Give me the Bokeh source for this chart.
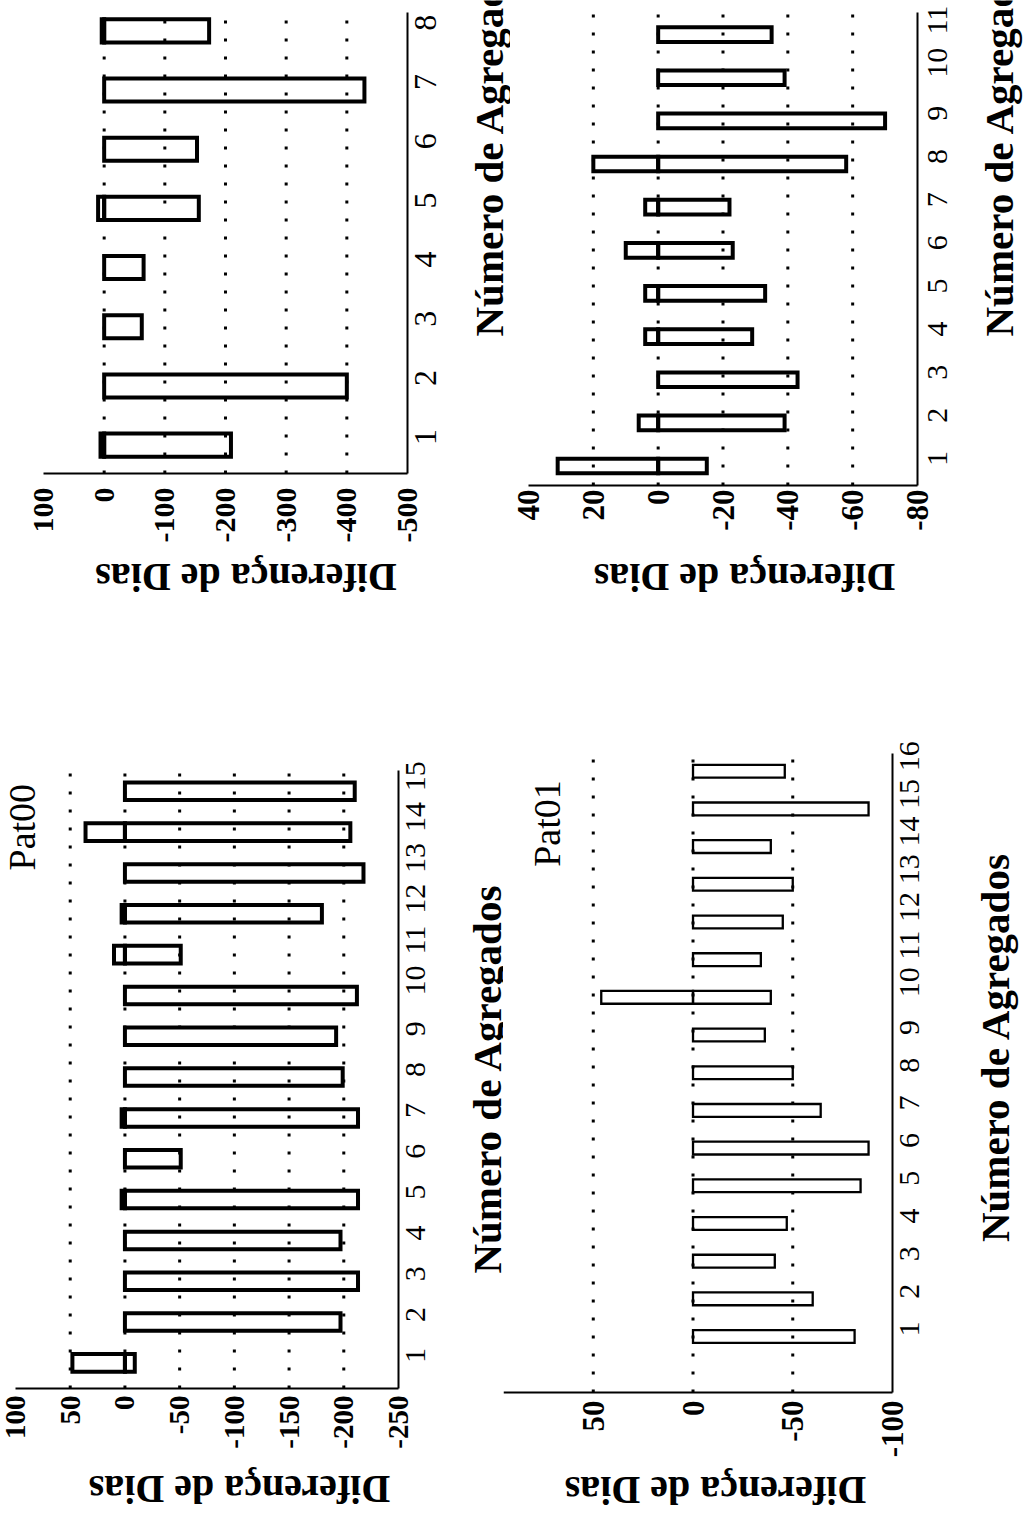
import math
from bokeh.plotting import figure
from bokeh.models import Range1d, FixedTicker, Label
from bokeh.layouts import column, row
from bokeh.embed import file_html
from bokeh.resources import INLINE

# ---------------- data ----------------
# upper-left panel
agg_a = [1, 2, 3, 4, 5, 6, 7, 8]
pos_a = [6, 0, 0, 0, 10, 0, 0, 4]
neg_a = [-209, -400, -62, -65, -156, -153, -429, -173]
vticks_a = [100, 0, -100, -200, -300, -400, -500]
grid_a = [0, -100, -200, -300, -400]

# upper-right panel
agg_b = [1, 2, 3, 4, 5, 6, 7, 8, 9, 10, 11]
pos_b = [31, 6, 0, 4, 4, 10, 4, 20, 0, 0, 0]
neg_b = [-15, -39, -43, -29, -33, -23, -22, -58, -70, -39, -35]
vticks_b = [40, 20, 0, -20, -40, -60, -80]
grid_b = [20, 0, -20, -40, -60]

# Pat00
agg_c = list(range(1, 16))
pos_c = [48, 0, 0, 0, 3, 0, 3, 0, 0, 0, 10, 3, 0, 36, 0]
neg_c = [-9, -197, -213, -197, -213, -51, -213, -199, -193, -212, -51, -180, -218, -206, -210]
vticks_c = [100, 50, 0, -50, -100, -150, -200, -250]
grid_c = [50, 0, -50, -100, -150, -200]

# Pat01
agg_d = list(range(1, 17))
pos_d = [0, 0, 0, 0, 0, 0, 0, 0, 0, 46, 0, 0, 0, 0, 0, 0]
neg_d = [-81, -60, -41, -47, -84, -88, -64, -50, -36, -39, -34, -45, -50, -39, -88, -46]
vticks_d = [50, 0, -50, -100]
grid_d = [50, 0, -50]

y_title = "Diferença de Dias"
x_title = "Número de Agregados"

SERIF = "Liberation Serif"


def make_panel(origin, size, frame, xr, yr, cats, pos, neg, vticks, gticks,
               bar_h, lw, vfont, cfont, vstand, cstand):
    ox, oy = origin
    w, h = size
    fx0, fx1, fy0, fy1 = frame

    def to_data(px, py):
        dx = xr[0] + (px - fx0) / (fx1 - fx0) * (xr[1] - xr[0])
        dy = yr[0] + (fy1 - py) / (fy1 - fy0) * (yr[1] - yr[0])
        return dx, dy

    x_left, y_top = to_data(ox, oy)
    x_right, y_bot = to_data(ox + w, oy + h)

    p = figure(width=w, height=h, x_range=Range1d(x_left, x_right),
               y_range=Range1d(y_bot, y_top), min_border=0,
               y_axis_location="right", output_backend="svg", toolbar_location=None)
    p.outline_line_color = None
    p.background_fill_color = "white"
    p.border_fill_color = "white"
    p.xgrid.visible = False
    p.ygrid.visible = False

    xa = p.xaxis[0]
    xa.fixed_location = yr[0]
    xa.bounds = (min(xr), max(xr))
    xa.ticker = FixedTicker(ticks=vticks)
    xa.major_label_overrides = {v: str(v) for v in vticks}
    xa.major_label_orientation = math.pi / 2
    xa.major_label_text_font = SERIF
    xa.major_label_text_font_style = "bold"
    xa.major_label_text_font_size = f"{vfont}px"
    xa.major_label_text_color = "black"
    xa.major_tick_line_color = None
    xa.minor_tick_line_color = None
    xa.major_tick_out = 0
    xa.major_tick_in = 0
    xa.major_label_standoff = vstand
    xa.axis_line_width = 2
    xa.axis_line_color = "black"

    ya = p.yaxis[0]
    ya.fixed_location = xr[1]
    ya.bounds = (min(yr), max(yr))
    ya.ticker = FixedTicker(ticks=cats)
    ya.major_label_overrides = {c: str(c) for c in cats}
    ya.major_label_orientation = math.pi / 2
    ya.major_label_text_font = SERIF
    ya.major_label_text_font_size = f"{cfont}px"
    ya.major_label_text_color = "black"
    ya.major_tick_line_color = None
    ya.minor_tick_line_color = None
    ya.major_tick_out = 0
    ya.major_tick_in = 0
    ya.major_label_standoff = cstand
    ya.axis_line_width = 2
    ya.axis_line_color = "black"

    # dotted value grid lines, limited to the plotting region
    n = len(gticks)
    p.segment(x0=gticks, x1=gticks, y0=[yr[0]] * n, y1=[yr[1]] * n,
              line_color="black", line_width=3, line_dash="3 15")

    p.hbar(y=cats, left=0, right=neg, height=bar_h, fill_color=None,
           line_color="black", line_width=lw, line_join="miter")
    pc = [c for c, v in zip(cats, pos) if v > 0]
    pv = [v for v in pos if v > 0]
    if pc:
        p.hbar(y=pc, left=0, right=pv, height=bar_h, fill_color=None,
               line_color="black", line_width=lw, line_join="miter")

    def label(text, px, py, angle, fsize, style, align, baseline="middle"):
        dx, dy = to_data(px, py)
        p.add_layout(Label(x=dx, y=dy, x_units="data", y_units="data", text=text,
                           angle=angle, angle_units="rad", text_font=SERIF,
                           text_font_size=f"{fsize}px", text_font_style=style,
                           text_color="black", text_align=align, text_baseline=baseline))
    return p, label


# upper-left
pA, labA = make_panel((0, 0), (510, 620), (43, 407, 12, 473), (100, -500), (0.52, 8.31),
                      agg_a, pos_a, neg_a, vticks_a, grid_a, 0.39, 4, 30, 32, 14, 18)
labA(y_title, 245.5, 576.5, math.pi, 40, "bold", "center")
labA(x_title, 488, 336, math.pi / 2, 41, "bold", "left")

# upper-right
pB, labB = make_panel((510, 0), (523, 620), (528, 917, 12, 485), (40, -80), (0.548, 11.512),
                      agg_b, pos_b, neg_b, vticks_b, grid_b, 0.34, 4, 31, 30, 4, 20)
labB(y_title, 744, 576.5, math.pi, 40, "bold", "center")
labB(x_title, 998, 336, math.pi / 2, 41, "bold", "left")

# Pat00
pC, labC = make_panel((0, 620), (503, 896), (15, 398, 770, 1388), (100, -250), (0.373, 15.509),
                      agg_c, pos_c, neg_c, vticks_c, grid_c, 0.43, 4, 29, 30, 7, 17)
labC("Pat00", 21.7, 826.7, math.pi / 2, 38, "normal", "center")
labC(y_title, 239, 1489, math.pi, 40, "bold", "center")
labC(x_title, 486, 1078, math.pi / 2, 41, "bold", "center")

# Pat01
pD, labD = make_panel((503, 620), (530, 896), (503, 892, 753, 1392), (95, -100), (-0.485, 16.47),
                      agg_d, pos_d, neg_d, vticks_d, grid_d, 0.34, 2.3, 31, 30, 8, 17)
labD("Pat01", 546, 823, math.pi / 2, 38, "normal", "center")
labD(y_title, 715, 1490, math.pi, 40, "bold", "center")
labD(x_title, 994, 1046.5, math.pi / 2, 41, "bold", "center")

layout = column(row(pA, pB, spacing=0), row(pC, pD, spacing=0), spacing=0)
open("out.html", "w").write(file_html(layout, INLINE))
